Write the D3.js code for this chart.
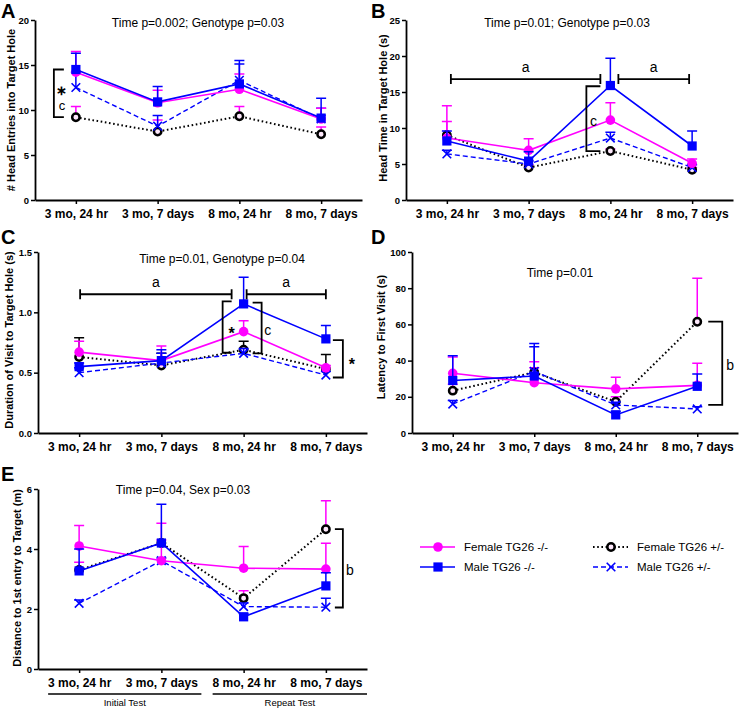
<!DOCTYPE html>
<html><head><meta charset="utf-8">
<script src="https://cdn.jsdelivr.net/npm/d3@7"></script>
<style>body{margin:0;background:#fff} svg{display:block} text{font-family:"Liberation Sans",Arial,sans-serif}</style>
</head><body>
<svg id="chart" width="739" height="708"></svg>
<script>
// ---------------- DATA ----------------
const categories = ["3 mo, 24 hr", "3 mo, 7 days", "8 mo, 24 hr", "8 mo, 7 days"];
const seriesNames = ["Female TG26 -/-", "Male TG26 -/-", "Female TG26 +/-", "Male TG26 +/-"];
// series order in every array: Female -/-, Male -/-, Female +/-, Male +/-
const headEntriesMean = [[14.2, 10.8, 12.3, 9.0], [14.5, 10.9, 12.9, 9.1], [9.2, 7.6, 9.3, 7.3], [12.5, 8.2, 13.3, 9.0]];
const headEntriesSEM  = [[2.3, 1.4, 1.7, 1.2], [1.8, 1.7, 2.2, 2.2], [1.2, 1.3, 1.1, 0.8], [1.7, 1.2, 2.2, 1.2]];
const headTimeMean = [[8.6, 6.9, 11.1, 5.1], [8.2, 5.4, 15.9, 7.5], [9.0, 4.5, 6.8, 4.2], [6.4, 5.0, 8.6, 4.5]];
const headTimeSEM  = [[4.5, 1.6, 2.4, 0.6], [1.4, 1.3, 3.8, 2.1], [1.9, 0.4, 0.3, 0.3], [0.5, 0.4, 0.8, 0.4]];
const durationMean = [[0.67, 0.60, 0.84, 0.54], [0.55, 0.60, 1.07, 0.78], [0.63, 0.56, 0.69, 0.53], [0.50, 0.58, 0.66, 0.48]];
const durationSEM  = [[0.09, 0.12, 0.09, 0.02], [0.03, 0.09, 0.22, 0.11], [0.16, 0.10, 0.07, 0.12], [0.04, 0.08, 0.04, 0.03]];
const latencyMean = [[33, 27.8, 24.4, 26.3], [29, 31.5, 10, 25.8], [23.4, 33.5, 17.3, 61.5], [16, 34, 15.5, 13.3]];
const latencySEM  = [[9, 11.6, 6.4, 12.2], [13.7, 18, 2, 6.8], [3.6, 2.5, 2.7, 24], [1.9, 13.7, 1.5, 1.2]];
const distanceMean = [[4.1, 3.61, 3.36, 3.33], [3.27, 4.2, 1.74, 2.77], [3.3, 4.2, 2.36, 4.66], [2.19, 3.61, 2.08, 2.06]];
const distanceSEM  = [[0.68, 1.25, 0.72, 0.86], [0.73, 1.29, 0.11, 0.44], [0.26, 0.1, 0.25, 0.95], [0.11, 0.09, 0.12, 0.30]];
const tickA = [0, 5, 10, 15, 20];
const tickB = [0, 5, 10, 15, 20, 25];
const tickC = [0, 0.5, 1.0, 1.5];
const tickD = [0, 20, 40, 60, 80, 100];
const tickE = [0, 2, 4, 6];
const groupLabels = ["Initial Test", "Repeat Test"];

// ---------------- STYLE ----------------
const MAG = "#ff00ff", BLUE = "#0000ff", BLACK = "#000";
const seriesStyle = [
  {color: MAG, dash: null, width: 1.6, marker: "circle", err: MAG},
  {color: BLUE, dash: null, width: 1.6, marker: "square", err: BLUE},
  {color: BLACK, dash: "1.6,2.6", width: 2, marker: "ring", err: MAG},
  {color: BLUE, dash: "5,3", width: 1.4, marker: "x", err: BLUE}
];
const drawOrder = [2, 3, 0, 1];
const FONT = '"Liberation Sans",Arial,sans-serif';

const panels = [
  {letter: "A", lx: 1, ly: 18, mean: headEntriesMean, sem: headEntriesSEM, ticks: tickA, fmt: d3.format("d"),
   x0: 35, x1: 362, yTop: 20, yBot: 200, title: "Time p=0.002; Genotype p=0.03", tx: 198, ty: 27,
   ylab: "# Head Entries into Target Hole", ylx: 11, yly: 110, femHetErr: MAG,
   hbars: [], brackets: [{ci: 0, dx: -22, v0: 14.5, v1: 9.2, arm: 10, dir: 1, labels: [{t: ["\u2217", "c"], dx: 8}]}]},
  {letter: "B", lx: 371, ly: 18, mean: headTimeMean, sem: headTimeSEM, ticks: tickB, fmt: d3.format("d"),
   x0: 406, x1: 733, yTop: 20, yBot: 200, title: "Time p=0.01; Genotype p=0.03", tx: 567, ty: 27,
   ylab: "Head Time in Target Hole (s)", ylx: 383, yly: 108, femHetErr: MAG,
   hbars: [{c0: 0, d0: 4, c1: 2, d1: -10, v: 16.8, t: "a"}, {c0: 2, d0: 8, c1: 3, d1: -3, v: 16.8, t: "a"}],
   brackets: [{ci: 2, dx: -24, v0: 15.8, v1: 6.8, arm: 14, dir: 1, labels: [{t: "c", dx: 7, dy: 2}]}]},
  {letter: "C", lx: 1, ly: 244, mean: durationMean, sem: durationSEM, ticks: tickC, fmt: d3.format(".1f"),
   x0: 38, x1: 367, yTop: 252, yBot: 433, title: "Time p=0.01, Genotype p=0.04", tx: 222, ty: 263,
   ylab: "Duration of Visit to Target Hole (s)", ylx: 9, yly: 340, femHetErr: BLACK,
   hbars: [{c0: 0, d0: 1, c1: 2, d1: -12, v: 1.15, t: "a"}, {c0: 2, d0: 3, c1: 3, d1: 0, v: 1.15, t: "a"}],
   brackets: [{ci: 2, dx: -21, v0: 1.09, v1: 0.665, arm: 9, dir: 1, labels: [{t: "*", dx: 9, dy: 0, star: true}]},
              {ci: 2, dx: 18, v0: 1.08, v1: 0.66, arm: 9, dir: -1, labels: [{t: "c", dx: 6, dy: 2}]},
              {ci: 3, dx: 17, v0: 0.77, v1: 0.46, arm: 10, dir: -1, labels: [{t: "*", dx: 9, dy: 0, star: true}]}]},
  {letter: "D", lx: 371, ly: 244, mean: latencyMean, sem: latencySEM, ticks: tickD, fmt: d3.format("d"),
   x0: 412, x1: 738, yTop: 252, yBot: 433, title: "Time p=0.01", tx: 560, ty: 277,
   ylab: "Latency to First Visit (s)", ylx: 381, yly: 337, femHetErr: MAG,
   hbars: [], brackets: [{ci: 3, dx: 25, v0: 61.5, v1: 15.5, arm: 14, dir: -1, labels: [{t: "b", dx: 8, dy: 2}]}]},
  {letter: "E", lx: 1, ly: 481, mean: distanceMean, sem: distanceSEM, ticks: tickE, fmt: d3.format("d"),
   x0: 38, x1: 367, yTop: 489, yBot: 669, title: "Time p=0.04, Sex p=0.03", tx: 183, ty: 494,
   ylab: "Distance to 1st entry to Target (m)", ylx: 17, yly: 578, femHetErr: MAG,
   hbars: [], brackets: [{ci: 3, dx: 17, v0: 4.66, v1: 2.05, arm: 8, dir: -1, labels: [{t: "b", dx: 7, dy: 2}]}],
   groups: true}
];

const svg = d3.select("#chart");

function drawMarker(g, type, x, y, color) {
  if (type === "circle") g.append("circle").attr("cx", x).attr("cy", y).attr("r", 4.8).attr("fill", color);
  else if (type === "square") g.append("rect").attr("x", x - 4.6).attr("y", y - 4.6).attr("width", 9.2).attr("height", 9.2).attr("fill", color);
  else if (type === "ring") g.append("circle").attr("cx", x).attr("cy", y).attr("r", 3.7).attr("fill", "#fde8fb").attr("stroke", "#000").attr("stroke-width", 2.5);
  else if (type === "x") g.append("path").attr("d", `M${x-4.3},${y-4.3}L${x+4.3},${y+4.3}M${x-4.3},${y+4.3}L${x+4.3},${y-4.3}`).attr("stroke", color).attr("stroke-width", 1.6).attr("fill", "none");
}

panels.forEach(p => {
  const g = svg.append("g");
  const x = d3.scalePoint().domain(categories).range([p.x0, p.x1]).padding(0.5);
  const yMax = p.ticks[p.ticks.length - 1];
  const y = d3.scaleLinear().domain([0, yMax]).range([p.yBot, p.yTop]);

  // axes
  const ya = g.append("g").attr("transform", `translate(${p.x0},0)`)
    .call(d3.axisLeft(y).tickValues(p.ticks).tickFormat(p.fmt).tickSize(4).tickSizeOuter(0).tickPadding(2));
  ya.selectAll("text").attr("font-size", 9.5).attr("font-weight", "bold").attr("font-family", FONT);
  const xa = g.append("g").attr("transform", `translate(0,${p.yBot})`)
    .call(d3.axisBottom(x).tickSize(4).tickSizeOuter(0).tickPadding(5));
  xa.selectAll("text").attr("font-size", 12).attr("font-weight", "bold").attr("font-family", FONT);
  [ya, xa].forEach(a => { a.select(".domain").attr("stroke-width", 1.8); a.selectAll(".tick line").attr("stroke-width", 1.5); });

  // title, y label, letter
  g.append("text").attr("x", p.tx).attr("y", p.ty).attr("text-anchor", "middle").attr("font-size", 12).text(p.title);
  g.append("text").attr("transform", `translate(${p.ylx},${p.yly}) rotate(-90)`).attr("text-anchor", "middle")
    .attr("dominant-baseline", "central").attr("font-size", 11).attr("font-weight", "bold").text(p.ylab);
  g.append("text").attr("x", p.lx).attr("y", p.ly).attr("font-size", 20).attr("font-weight", "bold").text(p.letter);

  // series
  drawOrder.forEach(si => {
    const st = seriesStyle[si];
    const m = p.mean[si], s = p.sem[si];
    const errColor = si === 2 ? p.femHetErr : st.err;
    const sg = g.append("g");
    categories.forEach((c, i) => {
      const cx = x(c), y0 = y(m[i]), y1 = y(m[i] + s[i]);
      sg.append("path").attr("d", `M${cx},${y0}V${y1}M${cx - 5},${y1}H${cx + 5}`).attr("stroke", errColor).attr("stroke-width", 1.5).attr("fill", "none");
    });
    const line = d3.line().x((d, i) => x(categories[i])).y(d => y(d));
    sg.append("path").datum(m).attr("d", line).attr("fill", "none").attr("stroke", st.color)
      .attr("stroke-width", st.width).attr("stroke-dasharray", st.dash);
    categories.forEach((c, i) => drawMarker(sg, st.marker, x(c), y(m[i]), st.color));
  });

  // horizontal significance bars
  p.hbars.forEach(h => {
    const xa0 = x(categories[h.c0]) + h.d0, xa1 = x(categories[h.c1]) + h.d1, yy = y(h.v);
    g.append("path").attr("d", `M${xa0},${yy - 5}V${yy + 5}M${xa0},${yy}H${xa1}M${xa1},${yy - 5}V${yy + 5}`)
      .attr("stroke", "#000").attr("stroke-width", 1.8).attr("fill", "none");
    g.append("text").attr("x", (xa0 + xa1) / 2).attr("y", yy - 7).attr("text-anchor", "middle").attr("font-size", 14).text(h.t);
  });
  // vertical brackets
  p.brackets.forEach(b => {
    const bx = x(categories[b.ci]) + b.dx, ya0 = y(b.v0), ya1 = y(b.v1);
    g.append("path").attr("d", `M${bx + b.dir * b.arm},${ya0}H${bx}V${ya1}H${bx + b.dir * b.arm}`)
      .attr("stroke", "#000").attr("stroke-width", 1.8).attr("fill", "none");
    const mid = (ya0 + ya1) / 2;
    b.labels.forEach(l => {
      if (Array.isArray(l.t)) {
        // stacked asterisk over "c"
        g.append("text").attr("x", bx + l.dx).attr("y", mid + 1.5).attr("text-anchor", "middle")
          .attr("font-weight", "bold").attr("font-size", 13).attr("font-family", '"DejaVu Sans",sans-serif').text(l.t[0]);
        g.append("text").attr("x", bx + l.dx).attr("y", mid + 16.5).attr("text-anchor", "middle")
          .attr("font-size", 13).text(l.t[1]);
      } else {
        g.append("text").attr("x", bx + l.dx).attr("y", mid + l.dy + (l.star ? 6 : 0)).attr("text-anchor", "middle")
          .attr("dominant-baseline", "central").attr("font-size", l.star ? 16 : 14).attr("font-weight", l.star ? "bold" : "normal").text(l.t);
      }
    });
  });

  // group lines (panel E)
  if (p.groups) {
    const spans = [[x(categories[0]) - 31, x(categories[1]) + 40], [x(categories[2]) - 31, p.x1]];
    spans.forEach((sp, i) => {
      g.append("line").attr("x1", sp[0]).attr("x2", sp[1]).attr("y1", 694).attr("y2", 694).attr("stroke", "#000").attr("stroke-width", 1.5);
      g.append("text").attr("x", (sp[0] + sp[1]) / 2).attr("y", 706).attr("text-anchor", "middle").attr("font-size", 9.5).text(groupLabels[i]);
    });
  }
});

// legend
const legendPos = [[420, 547], [420, 567], [593, 547], [593, 567]];
seriesNames.forEach((name, i) => {
  const st = seriesStyle[i];
  const [lx, ly] = legendPos[i];
  const g = svg.append("g");
  g.append("line").attr("x1", lx).attr("x2", lx + 35).attr("y1", ly).attr("y2", ly).attr("stroke", st.color)
    .attr("stroke-width", st.width).attr("stroke-dasharray", st.dash);
  drawMarker(g, st.marker, lx + 18, ly, st.color);
  g.append("text").attr("x", lx + 44).attr("y", ly).attr("dominant-baseline", "central").attr("font-size", 11.5).text(name);
});
</script>
</body></html>
